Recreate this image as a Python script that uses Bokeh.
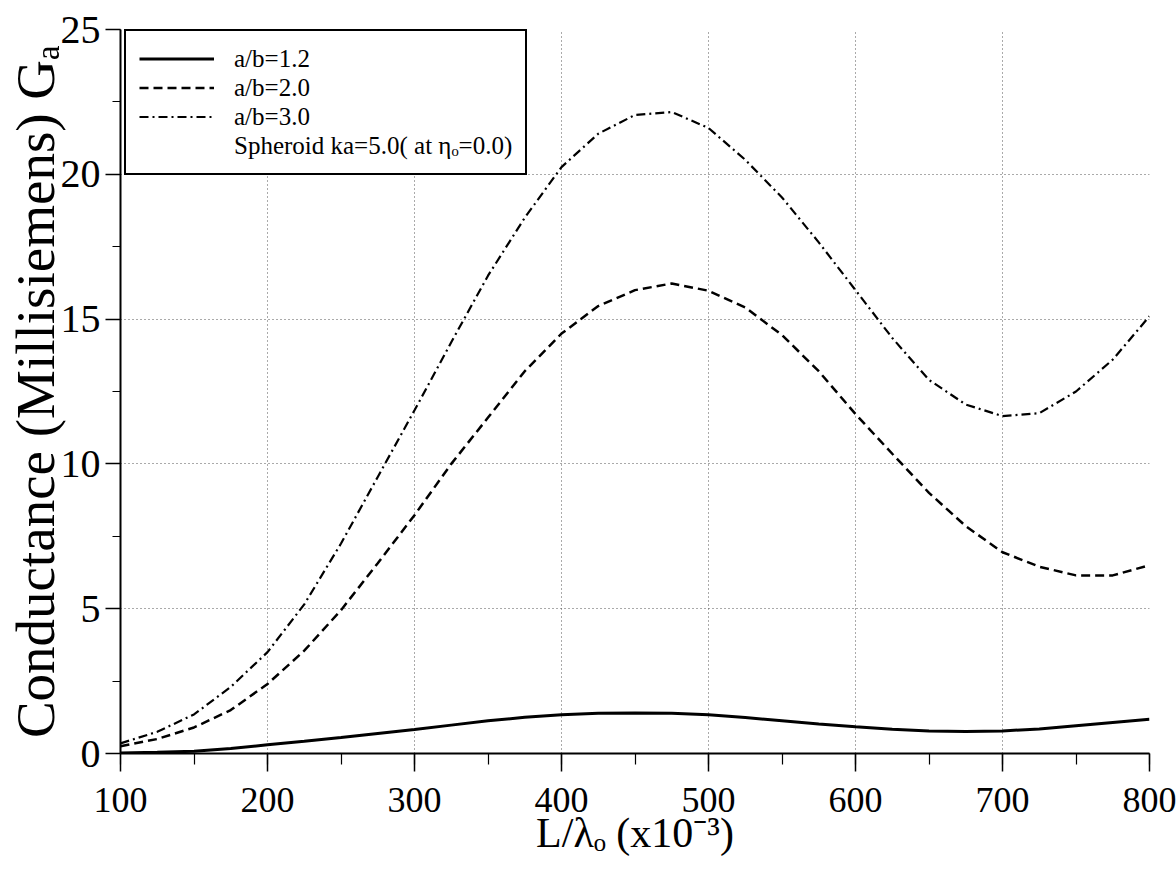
from bokeh.plotting import figure
from bokeh.models import (Legend, LegendItem, Range1d, SingleIntervalTicker)
from bokeh.embed import file_html
from bokeh.resources import INLINE

# ---- data ----
x_ratio = [100, 125, 150, 175, 200, 225, 250, 275, 300, 325, 350, 375, 400, 425,
           450, 475, 500, 525, 550, 575, 600, 625, 650, 675, 700, 725, 750, 775, 800]
g_ab12 = [0.02, 0.04, 0.08, 0.17, 0.30, 0.42, 0.55, 0.69, 0.83, 0.98, 1.13, 1.25, 1.34, 1.39,
          1.40, 1.39, 1.34, 1.24, 1.13, 1.02, 0.92, 0.84, 0.78, 0.76, 0.78, 0.85, 0.96, 1.07, 1.18]
g_ab20 = [0.25, 0.5, 0.9, 1.5, 2.4, 3.55, 4.95, 6.57, 8.23, 10.0, 11.6, 13.2, 14.5, 15.45,
          16.0, 16.23, 15.98, 15.4, 14.45, 13.2, 11.72, 10.35, 9.0, 7.85, 6.95, 6.45, 6.15, 6.15, 6.5]
g_ab30 = [0.35, 0.75, 1.35, 2.3, 3.5, 5.15, 7.25, 9.55, 11.85, 14.2, 16.5, 18.5, 20.25, 21.4,
          22.05, 22.15, 21.6, 20.5, 19.2, 17.65, 16.0, 14.35, 12.9, 12.05, 11.65, 11.75, 12.5, 13.6, 15.1]
legend_labels = ["a/b=1.2", "a/b=2.0", "a/b=3.0", "Spheroid ka=5.0( at \u03b7\u2092=0.0)"]
x_label = "L/\u03bb\u2092 (x10\u207b\u00b3)"
y_label = "Conductance (Millisiemens) G\u2090"

SERIF = "Liberation Serif"

p = figure(width=1176, height=884, output_backend="svg", toolbar_location=None,
           x_range=Range1d(100, 800), y_range=Range1d(0, 25),
           min_border_left=120, min_border_right=27, min_border_top=29,
           min_border_bottom=131)
p.outline_line_color = None
p.background_fill_color = "white"
p.border_fill_color = "white"

# axes
p.xaxis.ticker = SingleIntervalTicker(interval=100, num_minor_ticks=2)
p.yaxis.ticker = SingleIntervalTicker(interval=5, num_minor_ticks=2)
for ax in (p.xaxis, p.yaxis):
    ax.axis_line_color = "black"
    ax.axis_line_width = 2
    ax.major_tick_line_color = "black"
    ax.major_tick_line_width = 1.5
    ax.minor_tick_line_color = "black"
    ax.minor_tick_line_width = 1.2
    ax.major_tick_in = 0
    ax.minor_tick_in = 0
    ax.major_label_text_font = SERIF
    ax.major_label_text_color = "black"
    ax.axis_label_text_font = SERIF
    ax.axis_label_text_font_style = "normal"
    ax.axis_label_text_color = "black"
p.xaxis.major_tick_out = 18
p.xaxis.minor_tick_out = 11
p.xaxis.major_label_text_font_size = "36px"
p.xaxis.major_label_standoff = 16
p.xaxis.axis_label = x_label
p.xaxis.axis_label_text_font_size = "42px"
p.xaxis.axis_label_standoff = -5

p.yaxis.major_tick_out = 15
p.yaxis.minor_tick_out = 8
p.yaxis.major_label_text_font_size = "40px"
p.yaxis.major_label_standoff = 5
p.yaxis.axis_label = y_label
p.yaxis.axis_label_text_font_size = "55px"
p.yaxis.axis_label_standoff = -8

# grid
for g in (p.xgrid, p.ygrid):
    g.grid_line_color = "#555555"
    g.grid_line_dash = "1 3"
    g.grid_line_width = 1
p.xgrid.ticker = p.xaxis.ticker
p.ygrid.ticker = p.yaxis.ticker

# curves
r1 = p.line(x_ratio, g_ab12, line_color="black", line_width=3)
r2 = p.line(x_ratio, g_ab20, line_color="black", line_width=2.5, line_dash="9 5")
r3 = p.line(x_ratio, g_ab30, line_color="black", line_width=2.2, line_dash="9 4 2 4")
r4 = p.line([], [], line_color="black", line_alpha=0)

legend = Legend(items=[LegendItem(label=legend_labels[0], renderers=[r1]),
                       LegendItem(label=legend_labels[1], renderers=[r2]),
                       LegendItem(label=legend_labels[2], renderers=[r3]),
                       LegendItem(label=legend_labels[3], renderers=[r4])],
                location=(4, 578), margin=0, padding=13, spacing=0,
                label_height=29, glyph_height=29, glyph_width=75, label_standoff=20,
                label_text_font=SERIF, label_text_font_size="25px",
                label_text_color="black",
                border_line_color="black", border_line_width=2.5, border_line_alpha=1.0,
                background_fill_color="white", background_fill_alpha=1.0)
p.add_layout(legend)

open("out.html", "w").write(file_html(p, INLINE))
